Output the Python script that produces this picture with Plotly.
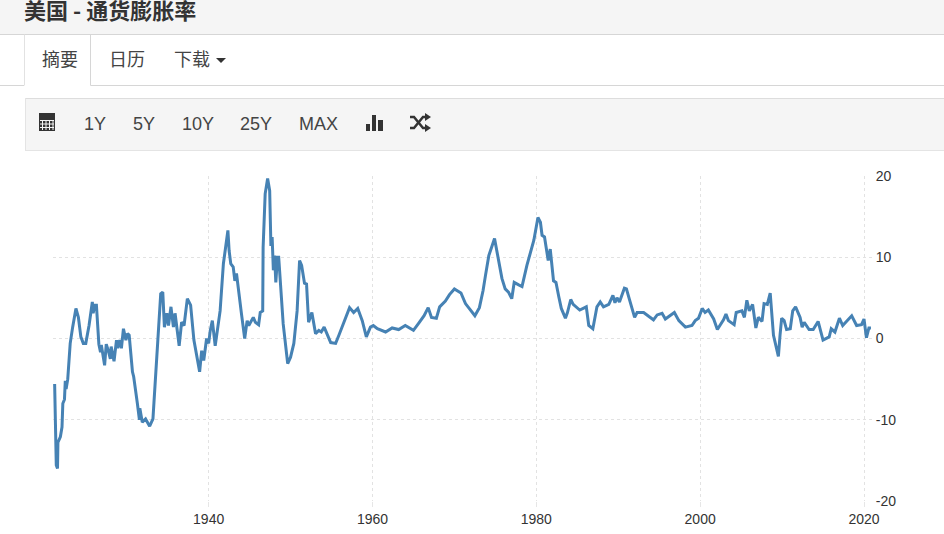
import plotly.graph_objects as go

years = [1921.2,1921.4,1921.55,1921.6,1921.9,1922.1,1922.2,1922.4,1922.5,1922.6,1922.8,1923.1,1923.4,1923.8,1924.1,1924.4,1924.7,1925,1925.4,1925.6,1925.8,1925.9,1926.1,1926.3,1926.6,1926.8,1926.9,1927.3,1927.5,1927.75,1928,1928.1,1928.45,1928.75,1928.9,1929.15,1929.35,1929.6,1929.9,1930.1,1930.3,1930.7,1930.85,1931.3,1931.55,1931.6,1931.9,1932.3,1932.8,1933.2,1933.5,1933.8,1934.15,1934.4,1934.6,1934.9,1935.1,1935.4,1935.7,1935.9,1936.4,1936.7,1937,1937.4,1937.8,1938.2,1938.6,1938.9,1939.15,1939.4,1939.75,1940,
1940.2,1940.45,1940.8,1941.05,1941.4,1941.8,1942.1,1942.35,1942.5,1942.7,1943,1943.2,1943.4,1943.7,1944,1944.4,1944.7,1944.9,1945.45,1945.7,1946.1,1946.3,1946.6,1946.65,1946.9,1947.2,1947.45,1947.6,1947.75,1947.9,1948.05,1948.2,1948.4,1948.55,1948.8,1949.1,1949.65,1950,1950.4,1950.8,1951.1,1951.35,1951.7,1951.95,1952.2,1952.6,1953.05,1953.45,1953.75,1954.1,1954.9,1955.5,1955.9,1956.5,1957.2,1957.7,1958.2,1958.75,1959.25,1959.75,
1960.1,1960.6,1961.6,1962.4,1963.2,1964,1965,1965.65,1966.3,1966.8,1967.2,1967.8,1968.2,1968.9,1969.4,1970,1970.8,1971.35,1972,1972.5,1973.05,1973.5,1973.8,1974.2,1974.9,1975.4,1975.8,1976.2,1976.6,1977,1977.3,1977.85,1978.25,1978.85,1979.25,1979.7,1980.2,1980.5,1980.7,1981,1981.45,1981.7,1982.1,1982.4,1982.75,1983.05,1983.55,1983.8,1984.2,1984.5,1985.3,1986.1,1986.4,1986.9,1987.4,1987.8,1988.2,1988.85,
1989.35,1989.6,1989.85,1990.15,1990.75,1991,1991.4,1991.8,1992,1992.3,1993.1,1993.75,1994.3,1994.75,1995.35,1995.75,1996.85,1997.4,1998.2,1999,1999.4,1999.8,2000.25,2000.6,2001,2001.65,2002.1,2002.85,2003.15,2003.45,2004.15,2004.4,2005.1,2005.4,2005.7,2006,2006.4,2006.8,2007.1,2007.55,2007.8,2008.2,2008.55,2008.95,2009.55,2009.75,2009.95,2010.25,2010.55,2011,2011.3,2011.65,2012.2,2012.45,2012.7,2013.3,2013.8,2014.4,2015,2015.75,2016,2016.45,2017,2017.4,2017.9,2018.5,2019.1,2019.7,2020,2020.3,2020.6,2020.85]

inflation = [-5.6,-15.6,-16,-12.8,-12.1,-10.9,-8,-7.5,-5.2,-6.2,-5,-0.6,1.4,3.7,2.6,0.2,-0.6,-0.6,1.6,3.4,4.5,3.1,4.1,4.1,-0.7,-1.7,-0.8,-3.3,-0.7,-1.5,-2.5,-1,-2.8,-0.2,-1.2,-0.2,-1.2,1.2,-0.2,0.6,0.4,-4.1,-4.7,-8,-10,-8.6,-10.3,-9.9,-10.8,-9.9,-4.7,0.2,5.5,5.7,1.4,3.1,1.6,3.9,1.4,3.1,-0.9,2,1.6,4.9,4.1,-0.2,-2.7,-4.1,-1.5,-2.7,0,-0.6,
1,2.2,-0.9,1,3.4,9.2,11.7,13.3,10.8,9.2,8.8,7.1,8,5.1,3.1,0,2.2,1.6,2.6,2,1.7,3.2,3.4,11.2,17.8,19.7,18.2,11.4,12.5,8.4,10.2,6.9,10,10,6.3,1.8,-3.1,-2.3,-0.6,3.4,9.6,9,6.8,6.7,2,3.2,0.6,1,0.8,1.4,-0.5,-0.6,0.4,2,3.8,3.2,3.7,2.2,0.2,1.4,
1.6,1.2,0.8,1.3,1.1,1.6,1,1.9,2.8,3.8,2.6,2.5,3.9,4.6,5.4,6.1,5.6,4.3,3.4,2.8,3.8,5.9,7.8,10.2,12.3,9.6,7.4,6.1,5.7,4.9,6.9,6.6,6.4,9,10.4,12.1,14.9,14.3,12.7,12.5,9.6,11,7.1,6.9,5.1,3.7,2.5,3.2,4.8,4.2,3.5,3.9,1.6,1.2,3.9,4.5,3.9,4.2,
5.3,4.4,5,4.5,6.2,6.1,4.7,3.2,2.6,3.2,3.2,2.7,2.3,2.9,3.1,2.4,3.2,2.2,1.4,1.6,2.2,2.5,3.7,3.2,3.5,2.4,1.1,2.3,3,2.2,1.7,3.2,3.4,2.6,4.7,3.4,4.2,1.3,2.6,2.1,4.3,4.2,5.6,0.4,-2.2,0.4,2.5,2.2,1.1,1.2,3.4,3.9,2.6,1.4,2,1.1,1.1,2.1,-0.2,0.2,1.2,0.8,2.5,1.6,2.2,2.8,1.6,1.7,2.4,0.1,1.3,1.3]

x_ticks = [1940, 1960, 1980, 2000, 2020]
y_ticks = [-20, -10, 0, 10, 20]
title_text = "美国 - 通货膨胀率"
tab_labels = ["摘要", "日历", "下载"]
range_labels = ["1Y", "5Y", "10Y", "25Y", "MAX"]

W, H = 944, 534
L, R, T, B = 53, 872, 176, 501
AXIS_X = 864  # where the grid stops and the value labels begin
CJK = "Noto Sans CJK SC"
LAT = "Liberation Sans"

def px(x):
    return (x - L) / (R - L)

def py(y):
    return (B - y) / (B - T)

shapes = []

def rect(x0, y0, x1, y1, fill, line=None, layer="below"):
    shapes.append(dict(type="rect", xref="paper", yref="paper", layer=layer,
                       x0=px(x0), x1=px(x1), y0=py(y1), y1=py(y0), fillcolor=fill,
                       line=dict(color=line or fill, width=1 if line else 0)))

def seg(x0, y0, x1, y1, color="#d6d6d6", width=1):
    shapes.append(dict(type="line", xref="paper", yref="paper", layer="below",
                       x0=px(x0), x1=px(x1), y0=py(y0), y1=py(y1),
                       line=dict(color=color, width=width)))

def poly(points, fill=None, color="#333333", width=0):
    d = "M" + " L".join(f"{px(a):.5f},{py(b):.5f}" for a, b in points)
    if fill:
        d += " Z"
    shapes.append(dict(type="path", xref="paper", yref="paper", layer="above", path=d,
                       fillcolor=fill or "rgba(0,0,0,0)",
                       line=dict(color=color, width=width)))

# page chrome
rect(0, 0, W, 34, "#f5f5f5")
seg(0, 34.5, W, 34.5)
seg(0, 85.5, 24, 85.5)
seg(90.5, 85.5, W, 85.5)
seg(24.5, 34.5, 24.5, 85.5, "#e2e2e2")
seg(90.5, 34.5, 90.5, 85.5)
rect(25, 98, W, 150, "#f5f5f5")
seg(25, 98.5, W, 98.5, "#dddddd")
seg(25, 150.5, W, 150.5, "#e4e4e4")
seg(25.5, 98, 25.5, 150, "#e4e4e4")

# the horizontal grid stops at the last tick; the line runs on past it
rect(AXIS_X + 0.5, T - 2, R + 1, B + 2, "white", layer="between")

# caret of the download tab
poly([(216, 58), (226, 58), (221, 63)], fill="#333333")

# calendar icon
rect(39, 113, 55, 131, "#333333")
for gx in (42.5, 46, 49.5, 53):
    seg(gx, 120, gx, 130, "#f5f5f5", 1)
for gy in (120.5, 124, 127.5):
    seg(40, gy, 54, gy, "#f5f5f5", 1)

# bar-chart icon
rect(366, 124, 370, 131, "#333333")
rect(372, 115, 376, 131, "#333333")
rect(378, 120, 383, 131, "#333333")

# shuffle icon
poly([(410, 117), (414, 117), (423, 128), (426, 128)], width=2.5)
poly([(410, 128), (414, 128), (423, 117), (426, 117)], width=2.5)
poly([(425, 113), (431, 117), (425, 121)], fill="#333333")
poly([(425, 124), (431, 128), (425, 132)], fill="#333333")

annotations = []

def label(text, x, y, size, family=LAT, color="#333333", anchor="center", bold=False):
    annotations.append(dict(text=f"<b>{text}</b>" if bold else text, xref="paper", yref="paper",
                            x=px(x), y=py(y), xanchor=anchor, yanchor="middle",
                            showarrow=False, font=dict(size=size, family=family, color=color)))

label(title_text, 22, 9, 22, family=CJK, anchor="left", bold=True)
for text, x in zip(tab_labels, [60, 126.5, 191.5]):
    label(text, x, 58, 18, family=CJK, color="#444444")
for text, x in zip(range_labels, [95, 144, 197.5, 255.5, 318]):
    label(text, x, 124, 18, color="#444444")

line = go.Scatter(x=years, y=inflation, mode="lines", cliponaxis=False,
                  line=dict(color="#4682b4", width=3), hoverinfo="skip")

fig = go.Figure(line)
fig.update_layout(
    width=W, height=H, autosize=False, showlegend=False,
    margin=dict(l=L, r=W - R, t=T, b=H - B, pad=0),
    paper_bgcolor="white", plot_bgcolor="white",
    shapes=shapes, annotations=annotations,
    xaxis=dict(range=[1921.0, 2020.977], tickvals=x_ticks, ticktext=[str(v) for v in x_ticks],
               automargin=False,
               showgrid=True, gridcolor="#e2e2e2", griddash="dot", gridwidth=1,
               ticks="outside", ticklen=5, tickcolor="#e6e6e6", zeroline=False,
               showline=False, tickfont=dict(size=14, family=LAT, color="#333333")),
    yaxis=dict(range=[-20, 20], side="right", anchor="free", position=px(AXIS_X),
               tickvals=y_ticks, ticktext=[str(v) for v in y_ticks],
               automargin=False,
               showgrid=True, gridcolor="#e2e2e2", griddash="dot", gridwidth=1,
               ticks="outside", ticklen=8, tickcolor="rgba(0,0,0,0)", zeroline=False,
               showline=False, tickfont=dict(size=14, family=LAT, color="#333333")),
)

fig.write_html("out.html", config={"displayModeBar": False},
               post_script="document.body.style.margin='0';")
